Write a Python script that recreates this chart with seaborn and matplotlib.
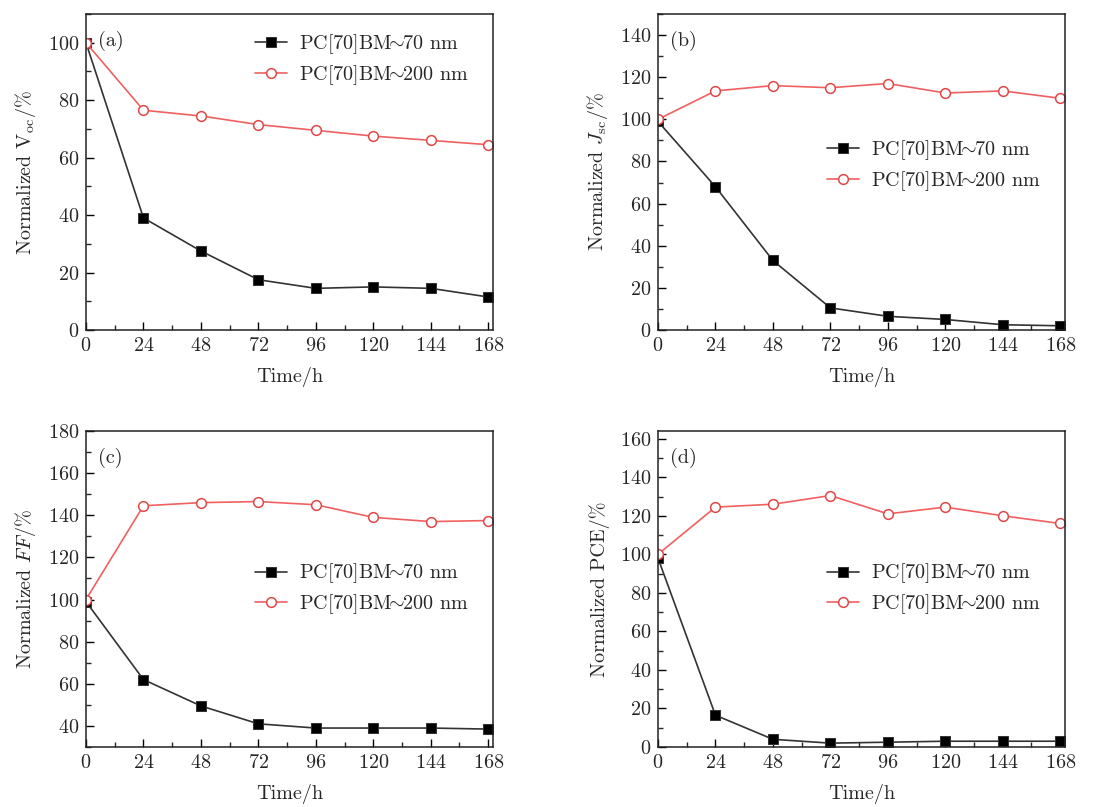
import matplotlib
matplotlib.use("Agg")
import matplotlib.pyplot as plt
import seaborn as sns
import pandas as pd
from matplotlib.ticker import MultipleLocator

sns.set_theme(style="white")
plt.rcParams['font.family'] = ['cmr10', 'DejaVu Serif']
plt.rcParams['mathtext.fontset'] = 'cm'
plt.rcParams['axes.formatter.use_mathtext'] = True

time_h = [0, 24, 48, 72, 96, 120, 144, 168]
series_names = [r"PC[70]BM$\!\!\sim\!\!$70 nm", r"PC[70]BM$\!\!\sim\!\!$200 nm"]

voc_70 = [100, 39, 27.5, 17.5, 14.5, 15, 14.5, 11.5]
voc_200 = [100, 76.5, 74.5, 71.5, 69.5, 67.5, 66, 64.5]
jsc_70 = [99, 68, 33, 10.5, 6.5, 5, 2.5, 2]
jsc_200 = [100, 113.5, 116, 115, 117, 112.5, 113.5, 110]
ff_70 = [99, 62, 49.5, 41, 39, 39, 39, 38.5]
ff_200 = [100, 144.5, 146, 146.5, 145, 139, 137, 137.5]
pce_70 = [98, 16.5, 4, 2, 2.5, 3, 3, 3]
pce_200 = [100, 124.5, 126, 130.5, 121, 124.5, 120, 116]

panel_tags = ["(a)", "(b)", "(c)", "(d)"]
y_labels = [r"Normalized $\mathrm{V}_{\mathrm{oc}}$/%",
            r"Normalized $J_{\mathrm{sc}}$/%",
            r"Normalized $FF$/%",
            r"Normalized PCE/%"]

panels = [
    dict(a=voc_70, b=voc_200, ylim=(0, 110), major=20, legend=(0.39, 0.855)),
    dict(a=jsc_70, b=jsc_200, ylim=(0, 150), major=20, legend=(0.39, 0.52)),
    dict(a=ff_70, b=ff_200, ylim=(30, 180), major=20, legend=(0.39, 0.50)),
    dict(a=pce_70, b=pce_200, ylim=(0, 164), major=20, legend=(0.39, 0.50)),
]

fig = plt.figure(figsize=(11.06, 8.07), dpi=100)
W, H = 1106, 807
rects = [(86, 14, 493, 330), (658, 14, 1065, 330),
         (86, 431, 493, 747), (658, 431, 1065, 747)]

FS = 14.5
for i, (p, r) in enumerate(zip(panels, rects)):
    l, t, rr, b = r
    ax = fig.add_axes([l / W, 1 - b / H, (rr - l) / W, (b - t) / H])
    df = pd.DataFrame({"Time": time_h * 2,
                       "Value": p["a"] + p["b"],
                       "Series": [series_names[0]] * 8 + [series_names[1]] * 8})
    d0 = df[df.Series == series_names[0]]
    d1 = df[df.Series == series_names[1]]
    sns.lineplot(data=d0, x="Time", y="Value", ax=ax, color="#333333", lw=1.2,
                 marker="s", markersize=6.5, markerfacecolor="black",
                 markeredgecolor="#333333", label=series_names[0])
    sns.lineplot(data=d1, x="Time", y="Value", ax=ax, color="#f06060", lw=1.2,
                 marker="o", markersize=7, markerfacecolor="white",
                 markeredgecolor="#e04848", markeredgewidth=1.1, label=series_names[1])
    ax.set_xlim(0, 170)
    ax.set_ylim(*p["ylim"])
    ax.set_xticks(time_h)
    ax.xaxis.set_minor_locator(MultipleLocator(12))
    ax.yaxis.set_major_locator(MultipleLocator(p["major"]))
    ax.yaxis.set_minor_locator(MultipleLocator(10))
    ax.tick_params(axis="both", which="major", direction="in", length=6, width=1,
                   labelsize=FS, color="black", left=True, bottom=True, pad=5)
    ax.tick_params(axis="both", which="minor", direction="in", length=3.5, width=1,
                   left=True, bottom=True)
    for s in ax.spines.values():
        s.set_color("#222222")
        s.set_linewidth(1.1)
    ax.set_xlabel("Time/h", fontsize=FS, labelpad=9)
    ax.set_ylabel(y_labels[i], fontsize=FS, labelpad=7)
    ax.text(0.03, 0.915, panel_tags[i], transform=ax.transAxes, fontsize=FS,
            ha="left", va="center")
    leg = ax.legend(loc="center left", bbox_to_anchor=p["legend"], frameon=False,
                    fontsize=FS, handlelength=1.6, handletextpad=0.6,
                    labelspacing=0.35, borderpad=0)
    for line in leg.get_lines():
        line.set_markersize(7)

fig.savefig("out.png", dpi=100)
